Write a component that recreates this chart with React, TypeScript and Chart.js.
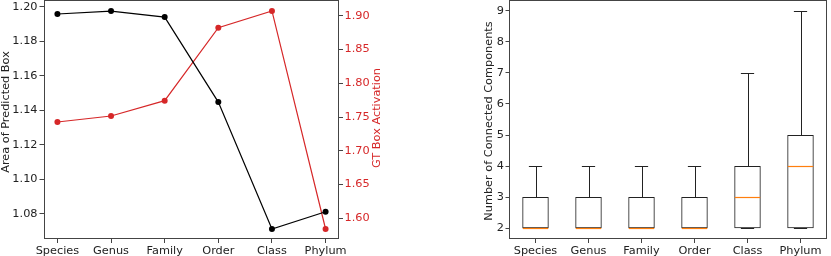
import { useEffect, useRef } from "react";
import { Chart, registerables } from "chart.js";

Chart.register(...registerables);

const CATEGORIES = ["Species", "Genus", "Family", "Order", "Class", "Phylum"];
const AREA = [1.1958, 1.1975, 1.194, 1.1448, 1.0713, 1.0813];
const ACTIVATION = [1.7426, 1.7515, 1.7742, 1.8822, 1.907, 1.5842];
const AREA_TICKS = [1.08, 1.1, 1.12, 1.14, 1.16, 1.18, 1.2];
const ACT_TICKS = [1.6, 1.65, 1.7, 1.75, 1.8, 1.85, 1.9];
const COUNT_TICKS = [2, 3, 4, 5, 6, 7, 8, 9];
const WHISKER_LOW = [2, 2, 2, 2, 2, 2];
const Q1 = [2, 2, 2, 2, 2, 2];
const MEDIAN = [2, 2, 2, 2, 3, 4];
const Q3 = [3, 3, 3, 3, 4, 5];
const WHISKER_HIGH = [4, 4, 4, 4, 7, 9];

const FONT = "DejaVu Sans";
const FS = 11.3;
const TEXT = "#222";
const RED = "#d62728";
const FRAME = "#444";

function noPad(s: any) {
  s.paddingTop = 0;
  s.paddingBottom = 0;
  s.paddingLeft = 0;
  s.paddingRight = 0;
}

function framePlugin(id: string) {
  return {
    id,
    afterDraw(chart: any) {
      const { ctx, chartArea: a } = chart;
      ctx.save();
      ctx.strokeStyle = FRAME;
      ctx.lineWidth = 1;
      ctx.strokeRect(Math.round(a.left) + 0.5, Math.round(a.top) + 0.5, Math.round(a.right - a.left) - 1, Math.round(a.bottom - a.top) - 1);
      ctx.restore();
    },
  };
}

function titlePlugin(id: string, titles: { text: string; x: number; y: number; color: string }[]) {
  return {
    id,
    afterDraw(chart: any) {
      const { ctx } = chart;
      titles.forEach((t) => {
        ctx.save();
        ctx.translate(t.x, t.y);
        ctx.rotate(-Math.PI / 2);
        ctx.font = `${FS}px "${FONT}"`;
        ctx.fillStyle = t.color;
        ctx.textAlign = "center";
        ctx.textBaseline = "middle";
        ctx.fillText(t.text, 0, 0);
        ctx.restore();
      });
    },
  };
}

function LineChart() {
  const ref = useRef<HTMLCanvasElement>(null);
  useEffect(() => {
    const chart = new Chart(ref.current!, {
      type: "line",
      data: {
        datasets: [
          {
            data: AREA.map((v, i) => ({ x: i, y: v })),
            borderColor: "#000",
            backgroundColor: "#000",
            borderWidth: 1.2,
            pointRadius: 3,
            pointBorderWidth: 0,
            pointBackgroundColor: "#000",
            yAxisID: "y",
            clip: false,
          },
          {
            data: ACTIVATION.map((v, i) => ({ x: i, y: v })),
            borderColor: RED,
            backgroundColor: RED,
            borderWidth: 1.2,
            pointRadius: 3,
            pointBorderWidth: 0,
            pointBackgroundColor: RED,
            yAxisID: "y1",
            clip: false,
          },
        ],
      },
      options: {
        animation: false,
        responsive: false,
        devicePixelRatio: 1,
        layout: { padding: 0, autoPadding: false },
        plugins: { legend: { display: false }, tooltip: { enabled: false } },
        scales: {
          x: {
            type: "linear",
            min: -0.25,
            max: 5.25,
            afterBuildTicks: (s: any) => {
              s.ticks = CATEGORIES.map((_, i) => ({ value: i }));
            },
            afterFit: (s: any) => {
              s.height = 17;
              noPad(s);
            },
            ticks: {
              autoSkip: false,
              maxRotation: 0,
              padding: 1,
              color: TEXT,
              font: { family: FONT, size: FS },
              callback: (v: any) => CATEGORIES[v],
            },
            grid: { drawOnChartArea: false, tickLength: 4, color: FRAME },
            border: { display: false },
          },
          y: {
            position: "left",
            min: 1.0655,
            max: 1.2039,
            afterBuildTicks: (s: any) => {
              s.ticks = AREA_TICKS.map((v) => ({ value: v }));
            },
            afterFit: (s: any) => {
              s.width = 44;
              noPad(s);
            },
            ticks: {
              padding: 2,
              color: TEXT,
              font: { family: FONT, size: FS },
              callback: (v: any) => Number(v).toFixed(2),
            },
            grid: { drawOnChartArea: false, tickLength: 4.5, color: FRAME },
            border: { display: false },
          },
          y1: {
            position: "right",
            min: 1.5694,
            max: 1.9232,
            afterBuildTicks: (s: any) => {
              s.ticks = ACT_TICKS.map((v) => ({ value: v }));
            },
            afterFit: (s: any) => {
              s.width = 81;
              noPad(s);
            },
            ticks: {
              padding: 1.5,
              color: RED,
              font: { family: FONT, size: FS },
              callback: (v: any) => Number(v).toFixed(2),
            },
            grid: { drawOnChartArea: false, tickLength: 4, color: FRAME },
            border: { display: false },
          },
        },
      },
      plugins: [
        framePlugin("frameL"),
        titlePlugin("titlesL", [
          { text: "Area of Predicted Box", x: 6, y: 112, color: TEXT },
          { text: "GT Box Activation", x: 377.5, y: 118, color: RED },
        ]),
      ],
    } as any);
    return () => chart.destroy();
  }, []);
  return <canvas ref={ref} width={420} height={256} />;
}

const boxPlugin = {
  id: "boxparts",
  afterDraw(chart: any) {
    const { ctx, scales } = chart;
    const xs = scales.x;
    const ys = scales.y;
    ctx.save();
    ctx.lineWidth = 1;
    CATEGORIES.forEach((_, i) => {
      const pos = i + 1;
      const cx = Math.round(xs.getPixelForValue(pos)) + 0.5;
      const boxL = xs.getPixelForValue(pos - 0.25);
      const boxR = xs.getPixelForValue(pos + 0.25);
      const capL = xs.getPixelForValue(pos - 0.125);
      const capR = xs.getPixelForValue(pos + 0.125);
      const py = (v: number) => Math.round(ys.getPixelForValue(v)) + 0.5;
      ctx.strokeStyle = "#222";
      ctx.beginPath();
      ctx.moveTo(cx, py(Q3[i]));
      ctx.lineTo(cx, py(WHISKER_HIGH[i]));
      ctx.moveTo(cx, py(Q1[i]));
      ctx.lineTo(cx, py(WHISKER_LOW[i]));
      ctx.moveTo(capL, py(WHISKER_HIGH[i]));
      ctx.lineTo(capR, py(WHISKER_HIGH[i]));
      ctx.moveTo(capL, py(WHISKER_LOW[i]));
      ctx.lineTo(capR, py(WHISKER_LOW[i]));
      ctx.stroke();
      ctx.strokeStyle = "#ff7f0e";
      ctx.lineWidth = 1.2;
      ctx.beginPath();
      ctx.moveTo(boxL + 0.5, py(MEDIAN[i]));
      ctx.lineTo(boxR - 0.5, py(MEDIAN[i]));
      ctx.stroke();
      ctx.lineWidth = 1;
    });
    ctx.restore();
  },
};

function BoxChart() {
  const ref = useRef<HTMLCanvasElement>(null);
  useEffect(() => {
    const chart = new Chart(ref.current!, {
      type: "bar",
      data: {
        datasets: [
          {
            data: CATEGORIES.map((_, i) => ({ x: i + 1, y: [Q1[i], Q3[i]] })),
            backgroundColor: "rgba(0,0,0,0)",
            borderColor: "#222",
            borderWidth: 1,
            borderSkipped: false,
            barPercentage: 0.5,
            categoryPercentage: 1,
          },
        ],
      },
      options: {
        animation: false,
        responsive: false,
        devicePixelRatio: 1,
        layout: { padding: { right: 4, top: 0, left: 0, bottom: 0 }, autoPadding: false },
        plugins: { legend: { display: false }, tooltip: { enabled: false } },
        scales: {
          x: {
            type: "linear",
            min: 0.5,
            max: 6.5,
            offset: false,
            afterBuildTicks: (s: any) => {
              s.ticks = CATEGORIES.map((_, i) => ({ value: i + 1 }));
            },
            afterFit: (s: any) => {
              s.height = 17;
              noPad(s);
            },
            ticks: {
              autoSkip: false,
              maxRotation: 0,
              padding: 1,
              color: TEXT,
              font: { family: FONT, size: FS },
              callback: (v: any) => CATEGORIES[v - 1],
            },
            grid: { drawOnChartArea: false, tickLength: 4, color: FRAME, offset: false },
            border: { display: false },
          },
          y: {
            min: 1.65,
            max: 9.35,
            afterBuildTicks: (s: any) => {
              s.ticks = COUNT_TICKS.map((v) => ({ value: v }));
            },
            afterFit: (s: any) => {
              s.width = 89;
              noPad(s);
            },
            ticks: {
              padding: 1.5,
              color: TEXT,
              font: { family: FONT, size: FS },
              callback: (v: any) => String(v),
            },
            grid: { drawOnChartArea: false, tickLength: 3.5, color: FRAME },
            border: { display: false },
          },
        },
      },
      plugins: [
        framePlugin("frameR"),
        boxPlugin,
        titlePlugin("titlesR", [{ text: "Number of Connected Components", x: 69, y: 121, color: TEXT }]),
      ],
    } as any);
    return () => chart.destroy();
  }, []);
  return <canvas ref={ref} width={411} height={256} />;
}

export default function App() {
  return (
    <div style={{ position: "absolute", left: 0, top: 0, width: 831, height: 256, background: "#fff" }}>
      <div style={{ position: "absolute", left: 0, top: 0, width: 420, height: 256 }}>
        <LineChart />
      </div>
      <div style={{ position: "absolute", left: 420, top: 0, width: 411, height: 256 }}>
        <BoxChart />
      </div>
    </div>
  );
}
